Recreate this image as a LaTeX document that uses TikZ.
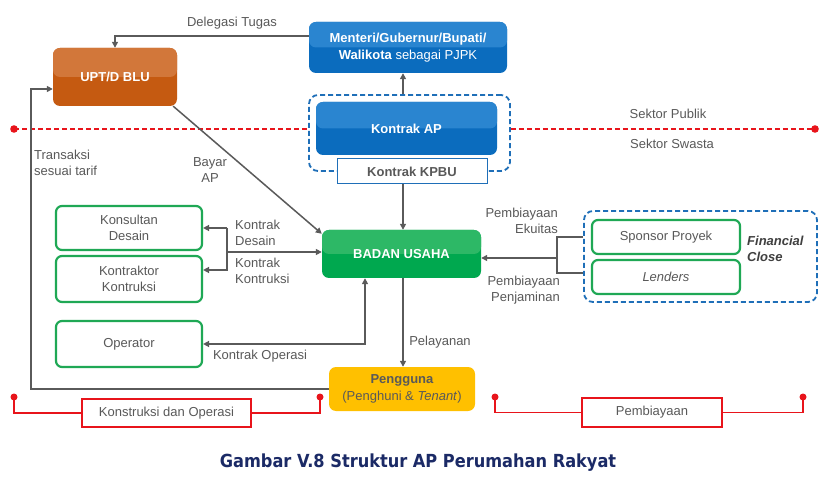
\documentclass[tikz,border=0pt]{standalone}
\usepackage{fontspec}
\setmainfont{Liberation Sans}
\newfontfamily\titlefont{DejaVu Sans Condensed}
\usetikzlibrary{arrows.meta}
\definecolor{txt}{HTML}{595959}
\definecolor{arrowgray}{HTML}{5A5A5A}
\definecolor{bluedark}{HTML}{0B6CBE}
\definecolor{bluelight}{HTML}{2A85D0}
\definecolor{orangedark}{HTML}{C55A11}
\definecolor{orangelight}{HTML}{D2773A}
\definecolor{greendark}{HTML}{00A84F}
\definecolor{greenlight}{HTML}{2DB866}
\definecolor{greenline}{HTML}{1FA855}
\definecolor{yellowbox}{HTML}{FFC000}
\definecolor{redline}{HTML}{E8141B}
\definecolor{dashblue}{HTML}{1F6FB8}
\definecolor{titleblue}{HTML}{1B2A66}
\newcommand\lbl{\fontsize{13}{16.5}\selectfont}
\tikzset{
  solidbox/.style 2 args={rounded corners=7pt, fill=#1, inner sep=0pt, align=center,
    text=white, font=\lbl,
    path picture={\fill[#2] (path picture bounding box.north west) rectangle (path picture bounding box.east);}},
  greenbox/.style={draw=greenline, line width=2.2pt, rounded corners=6pt, fill=white,
    inner sep=0pt, align=center, text=txt, font=\lbl, minimum width=146pt},
  dashbox/.style={draw=dashblue, line width=1.8pt, dash pattern=on 5pt off 3pt,
    rounded corners=9pt, inner sep=0pt},
  arr/.style={draw=arrowgray, line width=1.5pt, -{Triangle[length=6pt,width=6pt]}},
  darr/.style={draw=arrowgray, line width=1.5pt, {Triangle[length=6pt,width=6pt]}-{Triangle[length=6pt,width=6pt]}},
  plain/.style={draw=arrowgray, line width=1.5pt},
  lab/.style={text=txt, font=\lbl, inner sep=0pt},
  reddash/.style={draw=redline, line width=1.8pt, dash pattern=on 5pt off 3pt},
  redthin/.style={draw=redline, line width=1.2pt},
  redbox/.style={draw=redline, line width=1.2pt, fill=white, inner sep=0pt, text=txt, font=\lbl},
  reddot/.style={fill=redline}
}
\begin{document}
\begin{tikzpicture}[x=1pt,y=-1pt]
\useasboundingbox[fill=white] (0,0) rectangle (835,478);

% helper coordinates
\coordinate (cx) at (403,0);
\coordinate (bx) at (227,0);
\coordinate (ox) at (365,0);
\coordinate (fx) at (557,0);
\coordinate (lx) at (31,0);

% top boxes
\node[solidbox={bluedark}{bluelight}, minimum width=198pt, minimum height=51pt] (menteri) at (408,47.5)
  {\textbf{Menteri/Gubernur/Bupati/}\\\textbf{Walikota} sebagai PJPK};
\node[solidbox={orangedark}{orangelight}, minimum width=124pt, minimum height=58pt] (upt) at (115,77)
  {\textbf{UPT/D BLU}};

% red sector line
\node[dashbox, minimum width=201pt, minimum height=76pt] (kdash) at (409.5,133) {};
\coordinate (rl) at (14,129);
\coordinate (rr) at (815,129);
\draw[reddash] (rl) -- (rl -| kdash.west);
\draw[reddash] (rr -| kdash.east) -- (rr);
\fill[reddot] (rl) circle (3.8pt);
\fill[reddot] (rr) circle (3.8pt);

\node[solidbox={bluedark}{bluelight}, minimum width=181pt, minimum height=53pt] (kap) at (406.5,128.5)
  {\textbf{Kontrak AP}};
\node[draw=dashblue, line width=1pt, fill=white, minimum width=150pt, minimum height=25pt,
  inner sep=0pt, text=txt, font=\lbl] (kpbu) at (412,171.5) {\textbf{Kontrak KPBU}};

\node[lab] (spub) at (668,114) {Sektor Publik};
\node[lab] (sswa) at (672,144) {Sektor Swasta};

% center
\node[solidbox={greendark}{greenlight}, minimum width=159pt, minimum height=48pt] (badan) at (401.5,254)
  {\textbf{BADAN USAHA}};
\node[rounded corners=7pt, fill=yellowbox, minimum width=146pt, minimum height=44pt, inner sep=0pt,
  align=center, font=\lbl, text=txt] (pengguna) at (402,389)
  {\textbf{Pengguna}\\(Penghuni \& \textit{Tenant})};

% left boxes
\node[greenbox, minimum height=44pt] (konsultan) at (129,228) {Konsultan\\Desain};
\node[greenbox, minimum height=46pt] (kontraktor) at (129,279) {Kontraktor\\Kontruksi};
\node[greenbox, minimum height=46pt] (operator) at (129,344) {Operator};

% financing
\node[dashbox, minimum width=233pt, minimum height=91pt] (fin) at (700.5,256.5) {};
\node[greenbox, minimum width=148pt, minimum height=34pt] (sponsor) at (666,237) {Sponsor Proyek};
\node[greenbox, minimum width=148pt, minimum height=34pt] (lenders) at (666,277) {\textit{Lenders}};
\node[text=black!75, font=\lbl\bfseries\itshape, align=left, inner sep=0pt, anchor=west] (fclose) at (747,249)
  {Financial\\Close};

% connectors
\draw[arr] ([yshift=11.5pt]menteri.west) -| (upt.north);
\node[lab] (ldel) at (232,23) {Delegasi Tugas};

\draw[arr] (kdash.north -| cx) -- (menteri.south -| cx);
\draw[arr] (kpbu.south -| cx) -- (badan.north -| cx);

\draw[arr] ([xshift=-4pt]upt.south east) -- ([yshift=-4pt]badan.north west);
\node[lab, align=center] (lbayar) at (210,170) {Bayar\\AP};

\coordinate (uptin) at ([yshift=-12pt]upt.west);
\draw[arr] (pengguna.west) -- (pengguna.west -| lx) -- (uptin -| lx) -- (uptin);
\node[lab, align=left, anchor=west] (ltrans) at (34,163) {Transaksi\\sesuai tarif};

\coordinate (kin) at ([yshift=9pt]kontraktor.east);
\draw[arr] ([yshift=2pt]badan.west -| bx) -- ([yshift=2pt]badan.west);
\draw[arr] (konsultan.east -| bx) -- (konsultan.east);
\draw[arr] (konsultan.east -| bx) -- (kin -| bx) -- (kin);
\node[lab, align=left, anchor=west] (lkd) at (235,233) {Kontrak\\Desain};
\node[lab, align=left, anchor=west] (lkk) at (235,271) {Kontrak\\Kontruksi};

\draw[darr] (operator.east) -| (badan.south -| ox);
\node[lab] (lko) at (260,356) {Kontrak Operasi};

\draw[arr] (badan.south -| cx) -- (pengguna.north -| cx);
\node[lab] (lpel) at (440,342) {Pelayanan};

\coordinate (fin1) at (sponsor.west -| fin.west);
\coordinate (fin2) at ([yshift=4pt]lenders.west -| fin.west);
\draw[plain] (fin1) -- (fin1 -| fx) -- (fin2 -| fx) -- (fin2);
\coordinate (bin) at ([yshift=-4pt]badan.east);
\draw[arr] (bin -| fx) -- (bin);
\node[lab, align=right, anchor=east] (lpe) at (558,221) {Pembiayaan\\Ekuitas};
\node[lab, align=right, anchor=east] (lpp) at (560,290) {Pembiayaan\\Penjaminan};

% bottom brackets
\node[redbox, minimum width=169pt, minimum height=28pt] (kdo) at (166.5,413) {Konstruksi dan Operasi};
\coordinate (d1) at (14,397);
\coordinate (d2) at (320,397);
\draw[redthin] (d1) |- (kdo.west);
\draw[redthin] (kdo.east) -| (d2);
\fill[reddot] (d1) circle (3.5pt);
\fill[reddot] (d2) circle (3.5pt);

\node[redbox, minimum width=140pt, minimum height=29pt] (pbox) at (652,412.5) {Pembiayaan};
\coordinate (d3) at (495,397);
\coordinate (d4) at (803,397);
\draw[redthin] (d3) |- (pbox.west);
\draw[redthin] (pbox.east) -| (d4);
\fill[reddot] (d3) circle (3.5pt);
\fill[reddot] (d4) circle (3.5pt);

% title
\node[text=titleblue, font=\titlefont\bfseries\fontsize{18}{21}\selectfont, inner sep=0pt] (title) at (418,463)
  {Gambar V.8 Struktur AP Perumahan Rakyat};
\end{tikzpicture}
\end{document}
